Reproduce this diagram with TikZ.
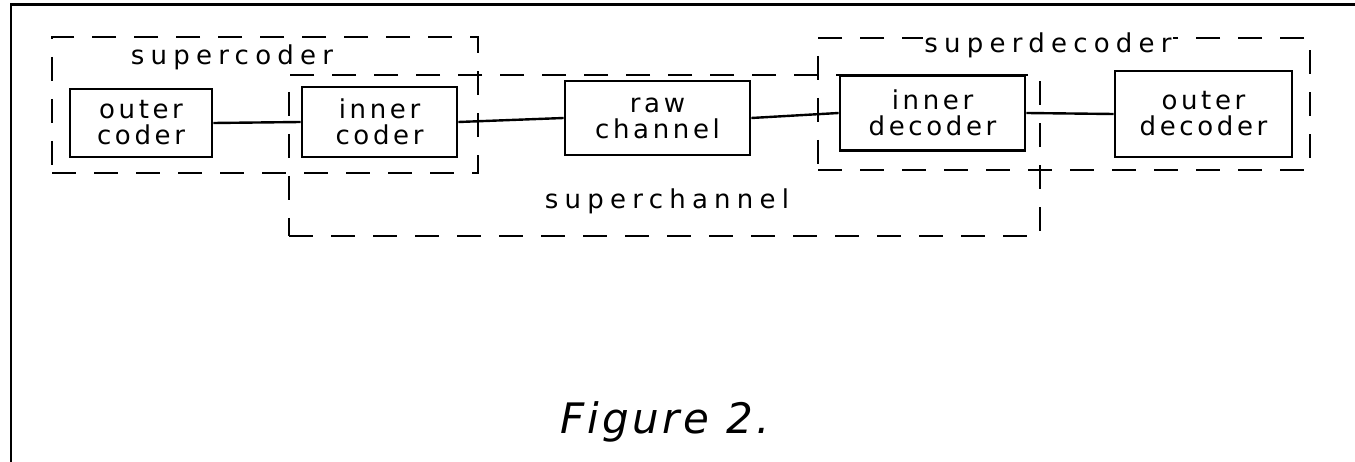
\documentclass[tikz,border=0pt]{standalone}
\usepackage{fontspec}
\setmainfont{DejaVu Sans}
\newfontfamily\handfont[LetterSpace=14]{DejaVu Sans}
\newfontfamily\handwide[LetterSpace=24]{DejaVu Sans}
\newfontfamily\capfont[LetterSpace=8]{DejaVu Sans Oblique}
\begin{document}
\begin{tikzpicture}[x=1pt,y=-1pt,
  blockbox/.style={draw, line width=2.8pt, inner sep=0pt, align=center,
    font=\handfont\fontsize{26}{26}\selectfont},
  groupbox/.style={draw, line width=2.8pt, dash pattern=on 24pt off 18pt, inner sep=0pt},
  grouplabel/.style={inner sep=1pt, font=\handwide\fontsize{26}{28}\selectfont},
  link/.style={draw, line width=2.4pt},
  frameline/.style={line width=2.2pt}]
\useasboundingbox (0,0) rectangle (1355,462);
% page frame
\draw[frameline] (11,462) -- (11,4.5) -- (1355,4.5);
% group boxes
\node[groupbox, minimum width=426pt, minimum height=136pt] (gcoder) at (265,105) {};
\node[groupbox, minimum width=751pt, minimum height=161pt] (gchannel) at (664.5,155.5) {};
\node[groupbox, minimum width=492pt, minimum height=132pt] (gdecoder) at (1064,104) {};
% blocks
\node[blockbox, minimum width=142pt, minimum height=68pt] (oc) at (141,123) {outer\\coder};
\node[blockbox, minimum width=155pt, minimum height=70pt] (ic) at (379.5,122) {inner\\coder};
\node[blockbox, minimum width=185pt, minimum height=74pt] (rc) at (657.5,118) {raw\\channel};
\node[blockbox, minimum width=185pt, minimum height=75pt] (id) at (932.5,113) {inner\\decoder};
\node[blockbox, minimum width=177pt, minimum height=86pt] (od) at (1203.5,114) {outer\\decoder};
% connectors
\draw[link] (oc.east) -- (ic.west);
\draw[link] (ic.east) -- (rc.west);
\draw[link] (rc.east) -- (id.west);
\draw[link] (id.east) -- (od.west);
% group labels
\node[grouplabel] (lcoder) at (232,57) {supercoder};
\node[grouplabel] (lchannel) at (667,201) {superchannel};
\node[grouplabel, fill=white] (ldecoder) at (1048,45) {superdecoder};
% caption
\node[font=\capfont\fontsize{42}{44}\selectfont, inner sep=0pt] (caption) at (665,422) {Figure 2.};
\end{tikzpicture}
\end{document}
